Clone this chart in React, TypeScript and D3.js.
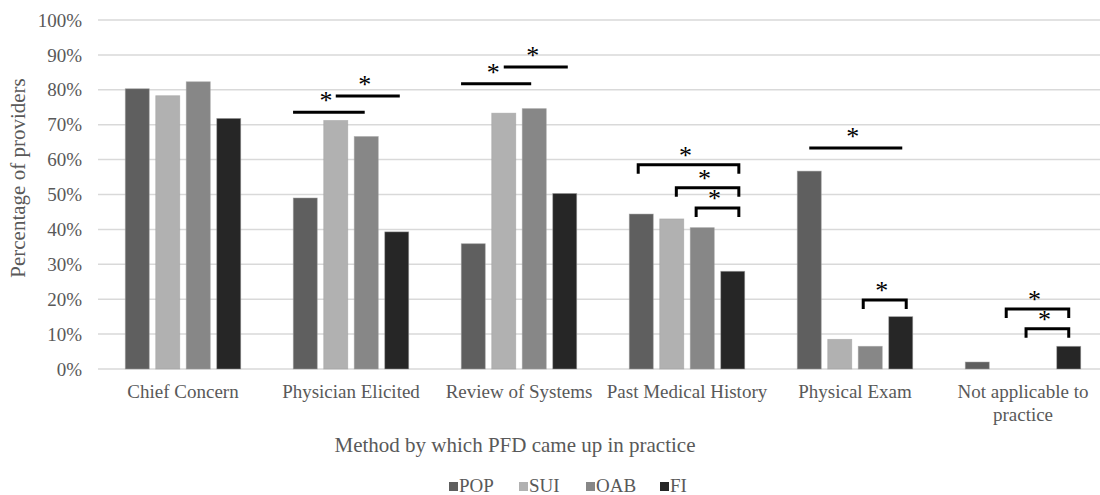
import * as d3 from "d3";
import React from "react";

const categories = [
  "Chief Concern",
  "Physician Elicited",
  "Review of Systems",
  "Past Medical History",
  "Physical Exam",
  "Not applicable to practice",
];
const series = ["POP", "SUI", "OAB", "FI"];
const pop = [80.3, 49.0, 35.9, 44.4, 56.7, 2.0];
const sui = [78.3, 71.2, 73.3, 43.0, 8.5, 0];
const oab = [82.3, 66.6, 74.6, 40.5, 6.5, 0];
const fi = [71.8, 39.3, 50.3, 28.0, 15.0, 6.5];
const yTicks = [0, 10, 20, 30, 40, 50, 60, 70, 80, 90, 100];
const colors = ["#5f5f5f", "#b1b1b1", "#878787", "#262626"];

// significance marks: category, span in bar-slot units (0 = POP .. 3 = FI), level in %
const sigLines = [
  { cat: 1, from: -0.4, to: 1.95, level: 73.6 },
  { cat: 1, from: 1.0, to: 3.1, level: 78.2 },
  { cat: 2, from: -0.4, to: 1.9, level: 81.7 },
  { cat: 2, from: 1.0, to: 3.1, level: 86.5 },
  { cat: 4, from: 0, to: 3.05, level: 63.3 },
];
const sigBrackets = [
  { cat: 3, from: -0.1, to: 3.2, level: 58.5 },
  { cat: 3, from: 1.15, to: 3.2, level: 51.9 },
  { cat: 3, from: 1.8, to: 3.2, level: 46.1 },
  { cat: 4, from: 1.77, to: 3.18, level: 19.8 },
  { cat: 5, from: 0.95, to: 3.0, level: 17.2 },
  { cat: 5, from: 1.6, to: 3.0, level: 11.5 },
];

const width = 1100;
const height = 495;
const font = "'Liberation Serif', 'Times New Roman', serif";

export default function App() {
  const values = [pop, sui, oab, fi];
  const x0 = d3
    .scaleBand()
    .domain(categories)
    .range([99, 1107])
    .paddingInner(0.274)
    .paddingOuter(0.137);
  const x1 = d3
    .scaleBand()
    .domain(series)
    .range([0, x0.bandwidth()])
    .paddingInner(0.213)
    .paddingOuter(0.1065);
  const y = d3.scaleLinear().domain([0, 100]).range([369, 20]);
  const step = x1.step();
  const slotX = (cat: number, pos: number) =>
    (x0(categories[cat]) as number) + (x1("POP") as number) + x1.bandwidth() / 2 + pos * step;

  const legendX = [449, 519, 586, 660];

  return (
    <svg
      width={width}
      height={height}
      style={{ position: "absolute", left: 0, top: 0, background: "#fff" }}
      fontFamily={font}
    >
      {yTicks.map((t) => (
        <g key={t}>
          <line x1={98} x2={1100} y1={y(t)} y2={y(t)} stroke="#d9d9d9" strokeWidth={1.5} />
          <text x={82} y={y(t)} dy="0.35em" textAnchor="end" fontSize={19} fill="#595959">
            {t}%
          </text>
        </g>
      ))}
      {categories.map((c, ci) => (
        <g key={c} transform={`translate(${x0(c)},0)`}>
          {series.map((s, si) => (
            <rect
              key={s}
              x={x1(s)}
              y={y(values[si][ci])}
              width={x1.bandwidth()}
              height={y(0) - y(values[si][ci])}
              fill={colors[si]}
              stroke="#9e9e9e"
              strokeOpacity={0.6}
              strokeWidth={0.8}
            />
          ))}
        </g>
      ))}
      {categories.map((c) => {
        const cx = (x0(c) as number) + x0.bandwidth() / 2;
        const lines = c === "Not applicable to practice" ? ["Not applicable to", "practice"] : [c];
        return (
          <text key={c} x={cx} y={398} textAnchor="middle" fontSize={19} fill="#595959">
            {lines.map((l, i) => (
              <tspan key={i} x={cx} dy={i === 0 ? 0 : 23}>
                {l}
              </tspan>
            ))}
          </text>
        );
      })}
      {sigLines.map((d, i) => {
        const a = slotX(d.cat, d.from);
        const b = slotX(d.cat, d.to);
        return (
          <g key={"l" + i}>
            <line x1={a} x2={b} y1={y(d.level)} y2={y(d.level)} stroke="#000" strokeWidth={3} />
            <text x={(a + b) / 2 - 3} y={y(d.level) - 3} textAnchor="middle" fontSize={26} fill="#000">
              *
            </text>
          </g>
        );
      })}
      {sigBrackets.map((d, i) => {
        const a = slotX(d.cat, d.from);
        const b = slotX(d.cat, d.to);
        const yy = y(d.level);
        const path = d3.path();
        path.moveTo(a, yy + 9);
        path.lineTo(a, yy);
        path.lineTo(b, yy);
        path.lineTo(b, yy + 9);
        return (
          <g key={"b" + i}>
            <path d={path.toString()} fill="none" stroke="#000" strokeWidth={3} />
            <text x={(a + b) / 2 - 3} y={yy - 1} textAnchor="middle" fontSize={26} fill="#000">
              *
            </text>
          </g>
        );
      })}
      <text
        transform={`translate(25,${178}) rotate(-90)`}
        textAnchor="middle"
        fontSize={21}
        fill="#595959"
      >
        Percentage of providers
      </text>
      <text x={515} y={452} textAnchor="middle" fontSize={21} fill="#595959">
        Method by which PFD came up in practice
      </text>
      {series.map((s, i) => (
        <g key={s}>
          <rect x={legendX[i]} y={482} width={9} height={9} fill={colors[i]} />
          <text x={legendX[i] + 10} y={492} fontSize={19} fill="#595959">
            {s}
          </text>
        </g>
      ))}
    </svg>
  );
}
